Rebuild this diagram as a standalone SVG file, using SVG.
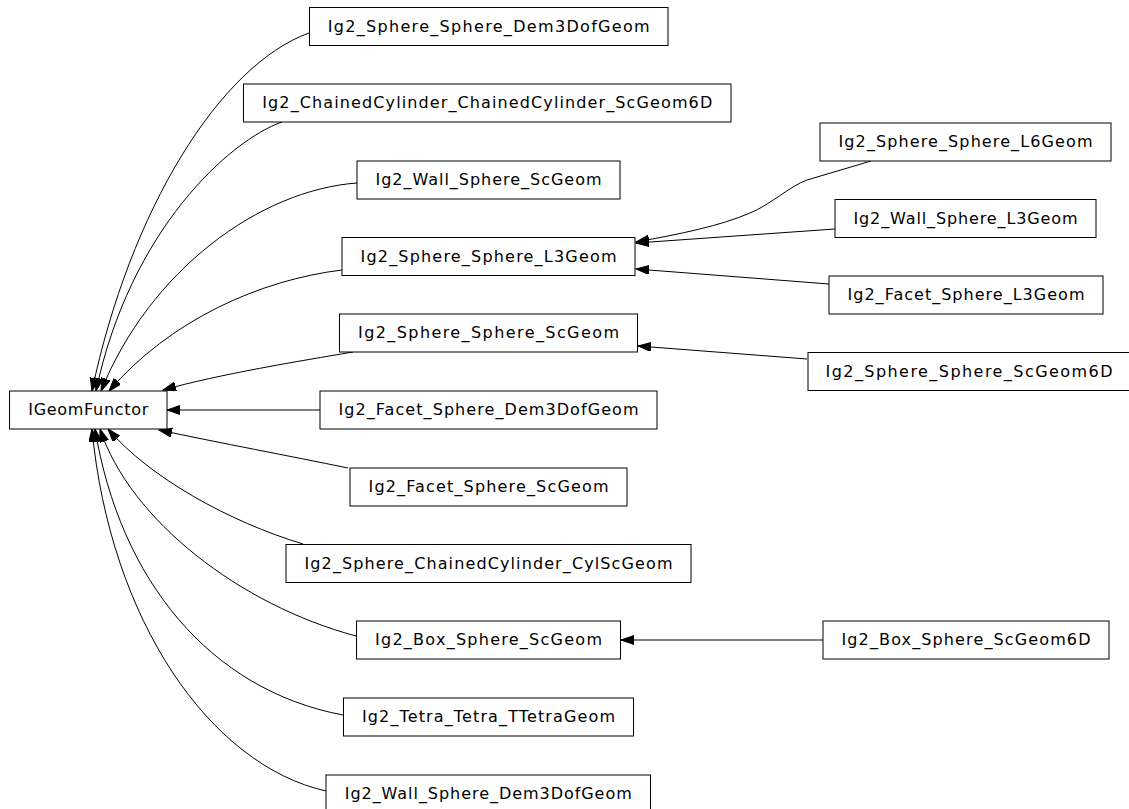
<svg xmlns="http://www.w3.org/2000/svg" width="1129" height="809" viewBox="0 0 1129 809">
<style>
.n rect{fill:#fff;stroke:#000;stroke-width:1}
.n text{font-family:"DejaVu Sans",sans-serif;font-size:16px;fill:#000;text-anchor:middle}
.e path{fill:none;stroke:#000;stroke-width:1}
</style>
<defs>
<marker id="ah" markerUnits="userSpaceOnUse" markerWidth="14" markerHeight="10" refX="13" refY="4.5" orient="auto">
<path d="M0,0 L13,4.5 L0,9 z" fill="#000" stroke="#000" stroke-width="1"/>
</marker>
</defs>
<rect width="1129" height="809" fill="#fff"/>
<g id="connectors" class="e">
<path marker-end="url(#ah)" d="M309,33 C220,65 130,210 92,391"/>
<path marker-end="url(#ah)" d="M282,122 C230,140 130,230 96,391"/>
<path marker-end="url(#ah)" d="M357,183 C260,190 150,270 101,391"/>
<path marker-end="url(#ah)" d="M342,270 C260,280 170,320 109,391"/>
<path marker-end="url(#ah)" d="M353,352 C300,361 220,374 163,390"/>
<path marker-end="url(#ah)" d="M320,410 L167,410"/>
<path marker-end="url(#ah)" d="M348,468 C290,456 220,443 159,430"/>
<path marker-end="url(#ah)" d="M303,544 C230,522 150,478 108,429"/>
<path marker-end="url(#ah)" d="M356,636 C240,605 130,520 100,429"/>
<path marker-end="url(#ah)" d="M343,715 C210,690 120,580 95,429"/>
<path marker-end="url(#ah)" d="M326,791 C210,765 110,620 92,429"/>
<path marker-end="url(#ah)" d="M871,161 L807,180 C790,186 770,205 750,213 C720,226 680,234 636,242"/>
<path marker-end="url(#ah)" d="M835,229 L636,243"/>
<path marker-end="url(#ah)" d="M829,284 L636,269"/>
<path marker-end="url(#ah)" d="M807,359 L638,346"/>
<path marker-end="url(#ah)" d="M823,640 L621,640"/>
</g>
<g id="IGeomFunctor" class="n"><rect x="9.5" y="391" width="157.5" height="38"/><text x="88.25" y="415" textLength="120" lengthAdjust="spacing">IGeomFunctor</text></g>
<g id="Ig2_Sphere_Sphere_Dem3DofGeom" class="n"><rect x="309.5" y="7.5" width="358.5" height="38"/><text x="488.7" y="31.5" textLength="322" lengthAdjust="spacing">Ig2_Sphere_Sphere_Dem3DofGeom</text></g>
<g id="Ig2_ChainedCylinder_ChainedCylinder_ScGeom6D" class="n"><rect x="243.5" y="84" width="487.5" height="38"/><text x="487.25" y="108" textLength="450" lengthAdjust="spacing">Ig2_ChainedCylinder_ChainedCylinder_ScGeom6D</text></g>
<g id="Ig2_Wall_Sphere_ScGeom" class="n"><rect x="357" y="161" width="263" height="38"/><text x="488.5" y="185" textLength="226" lengthAdjust="spacing">Ig2_Wall_Sphere_ScGeom</text></g>
<g id="Ig2_Sphere_Sphere_L3Geom" class="n"><rect x="342" y="237.5" width="293" height="38"/><text x="488.5" y="261.5" textLength="256" lengthAdjust="spacing">Ig2_Sphere_Sphere_L3Geom</text></g>
<g id="Ig2_Sphere_Sphere_ScGeom" class="n"><rect x="339.5" y="314" width="298" height="38"/><text x="488.5" y="338" textLength="261" lengthAdjust="spacing">Ig2_Sphere_Sphere_ScGeom</text></g>
<g id="Ig2_Facet_Sphere_Dem3DofGeom" class="n"><rect x="320" y="391" width="337" height="38"/><text x="488.5" y="415" textLength="300" lengthAdjust="spacing">Ig2_Facet_Sphere_Dem3DofGeom</text></g>
<g id="Ig2_Facet_Sphere_ScGeom" class="n"><rect x="350" y="468" width="277" height="38"/><text x="488.5" y="492" textLength="240" lengthAdjust="spacing">Ig2_Facet_Sphere_ScGeom</text></g>
<g id="Ig2_Sphere_ChainedCylinder_CylScGeom" class="n"><rect x="286" y="544.5" width="405" height="38"/><text x="488.5" y="568.5" textLength="368" lengthAdjust="spacing">Ig2_Sphere_ChainedCylinder_CylScGeom</text></g>
<g id="Ig2_Box_Sphere_ScGeom" class="n"><rect x="356.5" y="621" width="264" height="38"/><text x="488.5" y="645" textLength="227" lengthAdjust="spacing">Ig2_Box_Sphere_ScGeom</text></g>
<g id="Ig2_Tetra_Tetra_TTetraGeom" class="n"><rect x="343.5" y="698" width="290" height="38"/><text x="488.5" y="722" textLength="253" lengthAdjust="spacing">Ig2_Tetra_Tetra_TTetraGeom</text></g>
<g id="Ig2_Wall_Sphere_Dem3DofGeom" class="n"><rect x="326" y="775" width="324.5" height="38"/><text x="488.25" y="799" textLength="287" lengthAdjust="spacing">Ig2_Wall_Sphere_Dem3DofGeom</text></g>
<g id="Ig2_Sphere_Sphere_L6Geom" class="n"><rect x="820" y="123" width="291" height="38"/><text x="965.5" y="147" textLength="254" lengthAdjust="spacing">Ig2_Sphere_Sphere_L6Geom</text></g>
<g id="Ig2_Wall_Sphere_L3Geom" class="n"><rect x="835" y="199.5" width="261" height="38"/><text x="965.5" y="223.5" textLength="224" lengthAdjust="spacing">Ig2_Wall_Sphere_L3Geom</text></g>
<g id="Ig2_Facet_Sphere_L3Geom" class="n"><rect x="829" y="276" width="274" height="38"/><text x="966" y="300" textLength="237" lengthAdjust="spacing">Ig2_Facet_Sphere_L3Geom</text></g>
<g id="Ig2_Sphere_Sphere_ScGeom6D" class="n"><rect x="808" y="352.5" width="323" height="38"/><text x="969" y="376.5" textLength="287" lengthAdjust="spacing">Ig2_Sphere_Sphere_ScGeom6D</text></g>
<g id="Ig2_Box_Sphere_ScGeom6D" class="n"><rect x="823" y="621" width="286" height="38"/><text x="966" y="645" textLength="249" lengthAdjust="spacing">Ig2_Box_Sphere_ScGeom6D</text></g>
</svg>
